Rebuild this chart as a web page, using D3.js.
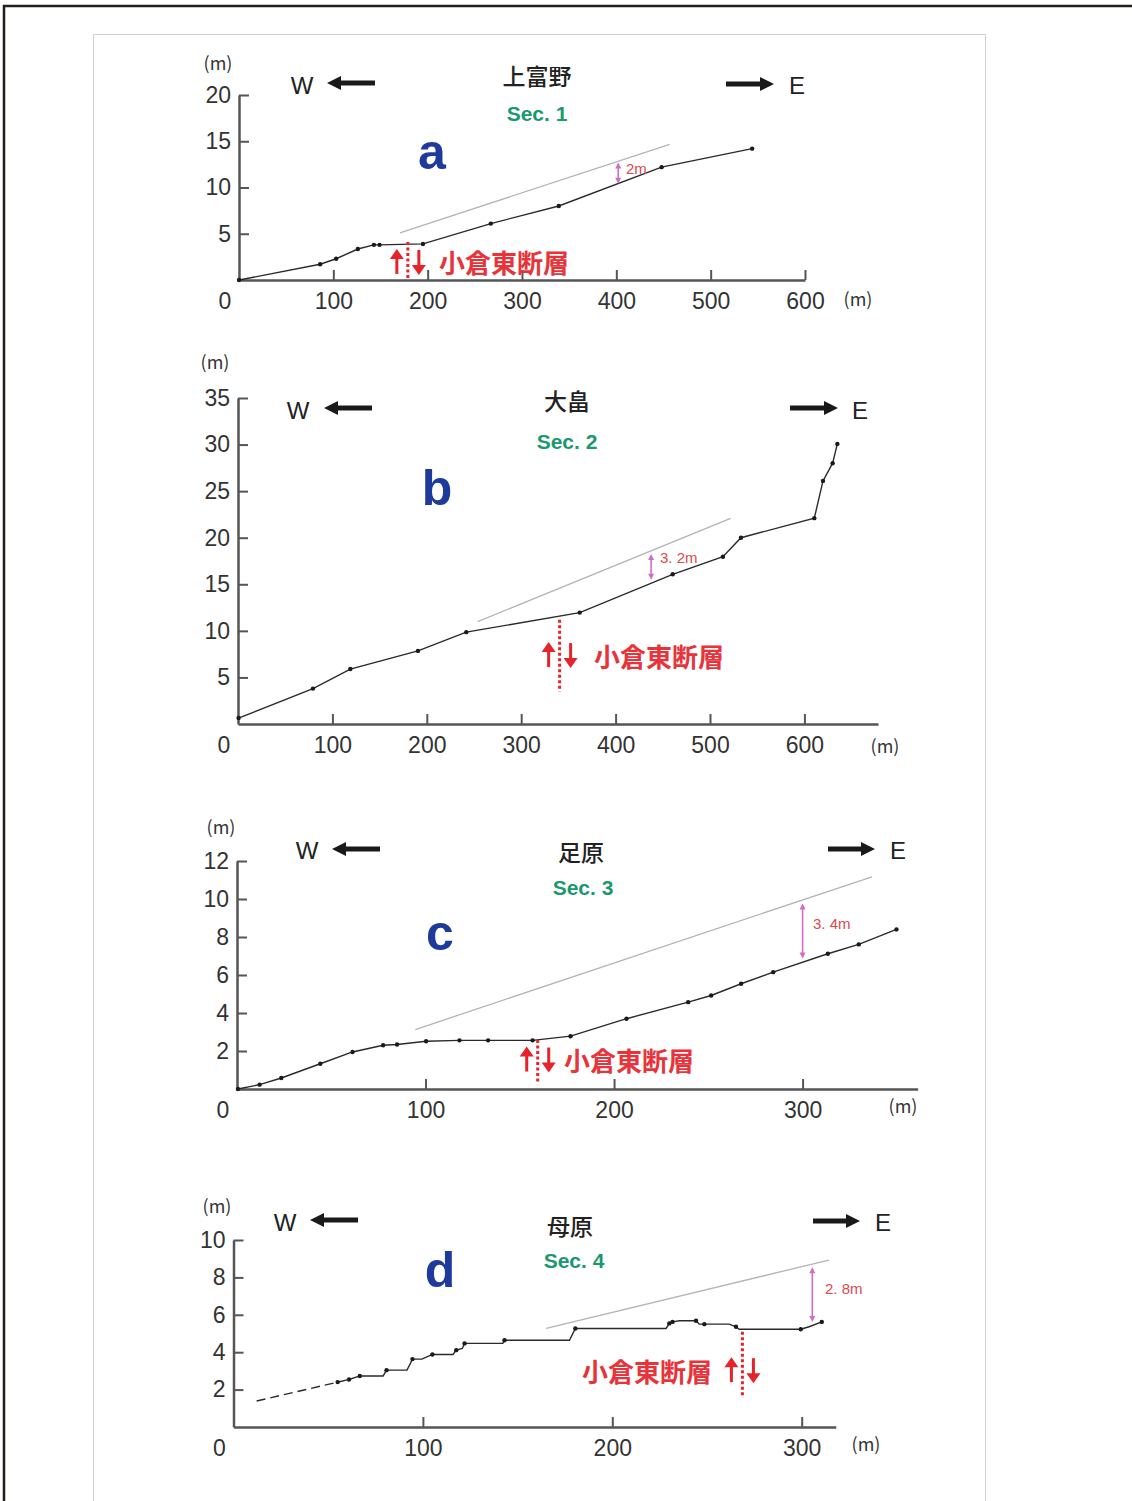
<!DOCTYPE html>
<html><head><meta charset="utf-8">
<script src="https://cdn.jsdelivr.net/npm/d3@7"></script>
<style>body{margin:0;background:#fff}</style>
</head><body>
<svg id="chart" width="1132" height="1501"></svg>
<script>
// ---------------- data ----------------
const sectionNames = ["上富野", "大畠", "足原", "母原"];
const sectionCodes = ["Sec. 1", "Sec. 2", "Sec. 3", "Sec. 4"];
const panelLetters = ["a", "b", "c", "d"];
const faultName = "小倉東断層";
const unitLabel = "(m)";
const originLabel = "0";
const offsetLabels = ["2m", "3. 2m", "3. 4m", "2. 8m"];

const secA_dist = [0, 86, 103, 126, 143, 149, 195, 267, 339, 448, 544];
const secA_elev = [0, 1.7, 2.3, 3.35, 3.8, 3.8, 3.9, 6.1, 8.0, 12.2, 14.2];
const secA_ref = [[170.6, 5.1], [456.6, 14.65]];
const secA_offset = [402, 10.4, 12.7];
const secA_fault = [179, 4.1, 0, 1.95];
const secA_xTicks = [100, 200, 300, 400, 500, 600];
const secA_yTicks = [5, 10, 15, 20];

const secB_dist = [0.6, 79.4, 119, 190.6, 241.8, 362, 460.5, 513.7, 532.8, 610.5, 619.7, 629.9, 634.9];
const secB_elev = [0.64, 3.8, 5.9, 7.85, 9.86, 11.96, 16.07, 17.96, 20.0, 22.1, 26.1, 28.0, 30.07];
const secB_ref = [[253.9, 11.0], [521.8, 22.07]];
const secB_offset = [437.6, 15.5, 18.25];
const secB_fault = [340.7, 11.2, 3.5, 7.4];
const secB_xTicks = [100, 200, 300, 400, 500, 600];
const secB_yTicks = [5, 10, 15, 20, 25, 30, 35];

const secC_dist = [0.5, 12, 23.5, 44.2, 61.3, 77.5, 84.9, 100.3, 118, 133.2, 156.8, 176.9, 206.6, 239.3, 251.5, 267.4, 284.4, 313.4, 329.8, 349.8];
const secC_elev = [0, 0.23, 0.58, 1.33, 1.95, 2.3, 2.34, 2.51, 2.56, 2.56, 2.56, 2.78, 3.7, 4.57, 4.92, 5.54, 6.15, 7.12, 7.61, 8.4];
const secC_ref = [[94.6, 3.13], [336.8, 11.17]];
const secC_offset = [300, 6.87, 9.76];
const secC_fault = [159.5, 2.58, 0.38, 1.55];
const secC_xTicks = [100, 200, 300];
const secC_yTicks = [2, 4, 6, 8, 10, 12];

const secD_dashDist = [12.2, 61];
const secD_dashElev = [1.39, 2.54];
const secD_dist = [61, 66.7, 79, 80.8, 91.6, 94.5, 99.5, 105, 115.9, 117.6, 120.8, 122, 142.2, 143.1, 177.4, 180.5, 228.4, 230.1, 231.8, 235.4, 244.2, 245.9, 261.7, 265.3, 267, 299.5, 303.9, 310.6];
const secD_elev = [2.54, 2.73, 2.73, 3.04, 3.04, 3.63, 3.63, 3.88, 3.88, 4.11, 4.2, 4.47, 4.47, 4.64, 4.64, 5.27, 5.27, 5.54, 5.62, 5.68, 5.68, 5.5, 5.5, 5.36, 5.23, 5.23, 5.36, 5.62];
const secD_markDist = [55, 61, 66.7, 80.8, 94.5, 105, 117.6, 122, 143.1, 180.5, 230.1, 231.8, 244.2, 248.6, 265.3, 299.5, 310.6];
const secD_markElev = [2.4, 2.54, 2.73, 3.04, 3.63, 3.88, 4.11, 4.47, 4.64, 5.27, 5.54, 5.62, 5.68, 5.5, 5.36, 5.23, 5.62];
const secD_ref = [[165.1, 5.27], [314.4, 8.93]];
const secD_offset = [305.6, 5.62, 8.54];
const secD_fault = [268.7, 5.09, 1.6, 3.04];
const secD_xTicks = [100, 200, 300];
const secD_yTicks = [2, 4, 6, 8, 10];

// ---------------- layout (pixels) ----------------
const layouts = [
  {x0: 239, y0: 280, xMax: 600, xPx: 0.9433, yMax: 20, yTop: 95,
   title: [537, 75], code: [537, 113], letter: [432, 152],
   w: [302, 85, 375, 327, 83], e: [726, 774, 84, 797, 85],
   unitY: [218, 62], unitX: [858, 298], faultLabelX: 439, offLab: [626, 168]},
  {x0: 238, y0: 724, xMax: 678, xPx: 0.944, yMax: 35, yTop: 398,
   title: [567, 400], code: [567, 441], letter: [437, 488],
   w: [298, 410, 372, 324, 408], e: [790, 838, 408, 860, 410],
   unitY: [215, 361], unitX: [885, 745], faultLabelX: 594, offLab: [660, 557]},
  {x0: 237, y0: 1089, xMax: 361, xPx: 1.8853, yMax: 12, yTop: 861,
   title: [581, 851], code: [583, 887], letter: [440, 933],
   w: [307, 850, 380, 332, 849], e: [828, 875, 849, 898, 850],
   unitY: [221, 826], unitX: [903, 1105], faultLabelX: 564, offLab: [813, 923]},
  {x0: 233.5, y0: 1427, xMax: 318, xPx: 1.894, yMax: 10, yTop: 1240,
   title: [570, 1225], code: [574, 1260], letter: [440, 1270],
   w: [285, 1222, 358, 310, 1220], e: [813, 860, 1221, 883, 1222],
   unitY: [217, 1205], unitX: [866, 1443], faultLabelX: 582, offLab: [825, 1288]}
];

const sections = [
  {dist: secA_dist, elev: secA_elev, ref: secA_ref, off: secA_offset, fault: secA_fault, xT: secA_xTicks, yT: secA_yTicks},
  {dist: secB_dist, elev: secB_elev, ref: secB_ref, off: secB_offset, fault: secB_fault, xT: secB_xTicks, yT: secB_yTicks},
  {dist: secC_dist, elev: secC_elev, ref: secC_ref, off: secC_offset, fault: secC_fault, xT: secC_xTicks, yT: secC_yTicks},
  {dist: secD_dist, elev: secD_elev, ref: secD_ref, off: secD_offset, fault: secD_fault, xT: secD_xTicks, yT: secD_yTicks,
   dashDist: secD_dashDist, dashElev: secD_dashElev, markDist: secD_markDist, markElev: secD_markElev}
];

const svg = d3.select("#chart");
const LATIN = "'Liberation Sans', Arial, sans-serif";
const CJK = "'Noto Sans CJK JP', 'Noto Sans', sans-serif";

// frames
svg.append("rect").attr("x", 0).attr("y", 0).attr("width", 1132).attr("height", 1501).attr("fill", "#fff");
svg.append("rect").attr("x", 93.5).attr("y", 34.5).attr("width", 892).attr("height", 1480)
  .attr("fill", "none").attr("stroke", "#d2d2d2").attr("stroke-width", 1);
svg.append("path").attr("d", "M4,1501 V6 H1132").attr("fill", "none")
  .attr("stroke", "#231c18").attr("stroke-width", 2.5);

function thickArrow(g, xTail, xHead, y) {
  const dir = xHead > xTail ? 1 : -1;
  const hb = xHead - dir * 14;
  g.append("line").attr("x1", xTail).attr("x2", hb).attr("y1", y).attr("y2", y)
    .attr("stroke", "#1a1a1a").attr("stroke-width", 5);
  g.append("path").attr("d", `M${xHead},${y} L${hb},${y - 7} L${hb},${y + 7} Z`).attr("fill", "#1a1a1a");
}

sections.forEach((s, i) => {
  const L = layouts[i];
  const g = svg.append("g");
  const xs = d3.scaleLinear().domain([0, L.xMax]).range([L.x0, L.x0 + L.xMax * L.xPx]);
  const ys = d3.scaleLinear().domain([0, L.yMax]).range([L.y0, L.yTop]);

  // axes
  const xAxis = d3.axisBottom(xs).tickValues(s.xT).tickSize(-10).tickSizeOuter(0).tickPadding(13)
    .tickFormat(d3.format("d"));
  const yAxis = d3.axisLeft(ys).tickValues(s.yT).tickSize(-10).tickSizeOuter(0).tickPadding(8)
    .tickFormat(d3.format("d"));
  const gx = g.append("g").attr("transform", `translate(0,${L.y0})`).call(xAxis);
  const gy = g.append("g").attr("transform", `translate(${L.x0},0)`).call(yAxis);
  [gx, gy].forEach(a => {
    a.attr("font-size", null).attr("font-family", null);
    a.select(".domain").attr("stroke", "#555").attr("stroke-width", 2.5);
    a.selectAll(".tick line").attr("stroke", "#555").attr("stroke-width", 2);
    a.selectAll(".tick text").attr("fill", "#333").style("font-size", "23px").style("font-family", LATIN);
  });
  g.append("text").attr("x", L.x0 - 14).attr("y", L.y0 + 21).attr("text-anchor", "middle")
    .attr("dominant-baseline", "central").style("font-size", "23px").style("font-family", LATIN)
    .attr("fill", "#333").text(originLabel);
  g.append("text").attr("x", L.unitY[0]).attr("y", L.unitY[1]).attr("text-anchor", "middle")
    .attr("dominant-baseline", "central").style("font-size", "18px").style("font-family", CJK)
    .attr("fill", "#333").text(unitLabel);
  g.append("text").attr("x", L.unitX[0]).attr("y", L.unitX[1]).attr("text-anchor", "middle")
    .attr("dominant-baseline", "central").style("font-size", "18px").style("font-family", CJK)
    .attr("fill", "#333").text(unitLabel);

  // reference (pre-fault) line
  const line = d3.line().x(d => xs(d[0])).y(d => ys(d[1]));
  g.append("path").attr("d", line(s.ref)).attr("fill", "none").attr("stroke", "#b4b4b4").attr("stroke-width", 1.3);

  // profile
  const pts = s.dist.map((d, j) => [d, s.elev[j]]);
  if (s.dashDist) {
    const dp = s.dashDist.map((d, j) => [d, s.dashElev[j]]);
    g.append("path").attr("d", line(dp)).attr("fill", "none").attr("stroke", "#2a2a2a")
      .attr("stroke-width", 1.4).attr("stroke-dasharray", "9,5");
  }
  g.append("path").attr("d", line(pts)).attr("fill", "none").attr("stroke", "#2a2a2a").attr("stroke-width", 1.4);
  const marks = s.markDist ? s.markDist.map((d, j) => [d, s.markElev[j]]) : pts;
  g.selectAll("circle.m").data(marks).join("circle").attr("class", "m")
    .attr("cx", d => xs(d[0])).attr("cy", d => ys(d[1])).attr("r", 2.2).attr("fill", "#1a1a1a");

  // offset arrow
  const ox = xs(s.off[0]), oy1 = ys(s.off[1]), oy2 = ys(s.off[2]);
  g.append("line").attr("x1", ox).attr("x2", ox).attr("y1", oy1 - 2).attr("y2", oy2 + 2)
    .attr("stroke", "#d36cc6").attr("stroke-width", 1.6);
  g.append("path").attr("d", `M${ox},${oy2} l-3,6 h6 Z M${ox},${oy1} l-3,-6 h6 Z`).attr("fill", "#d36cc6");
  g.append("text").attr("x", L.offLab[0]).attr("y", L.offLab[1]).attr("dominant-baseline", "central")
    .style("font-size", "15px").style("font-family", LATIN).attr("fill", "#e0484c").text(offsetLabels[i]);

  // fault
  const fx = xs(s.fault[0]), fy1 = ys(s.fault[1]), fy2 = ys(s.fault[2]), fc = ys(s.fault[3]);
  g.append("line").attr("x1", fx).attr("x2", fx).attr("y1", fy1).attr("y2", fy2)
    .attr("stroke", "#e5232b").attr("stroke-width", 3).attr("stroke-dasharray", "3,2.5");
  const red = "#e5232b";
  g.append("line").attr("x1", fx - 11).attr("x2", fx - 11).attr("y1", fc - 5).attr("y2", fc + 12)
    .attr("stroke", red).attr("stroke-width", 3);
  g.append("path").attr("d", `M${fx - 11},${fc - 13} L${fx - 18},${fc - 3} L${fx - 4},${fc - 3} Z`).attr("fill", red);
  g.append("line").attr("x1", fx + 11).attr("x2", fx + 11).attr("y1", fc - 12).attr("y2", fc + 5)
    .attr("stroke", red).attr("stroke-width", 3);
  g.append("path").attr("d", `M${fx + 11},${fc + 13} L${fx + 4},${fc + 3} L${fx + 18},${fc + 3} Z`).attr("fill", red);
  g.append("text").attr("x", L.faultLabelX).attr("y", fc).attr("dominant-baseline", "central")
    .style("font-size", "26px").style("font-family", CJK).style("font-weight", "bold")
    .attr("fill", "#e8333a").text(faultName);

  // headings
  g.append("text").attr("x", L.title[0]).attr("y", L.title[1]).attr("text-anchor", "middle")
    .attr("dominant-baseline", "central").style("font-size", "23px").style("font-family", CJK)
    .style("font-weight", 500).attr("fill", "#222").text(sectionNames[i]);
  g.append("text").attr("x", L.code[0]).attr("y", L.code[1]).attr("text-anchor", "middle")
    .attr("dominant-baseline", "central").style("font-size", "21px").style("font-family", LATIN)
    .style("font-weight", "bold").attr("fill", "#1b9870").text(sectionCodes[i]);
  g.append("text").attr("x", L.letter[0]).attr("y", L.letter[1]).attr("text-anchor", "middle")
    .attr("dominant-baseline", "central").style("font-size", "50px").style("font-family", LATIN)
    .style("font-weight", "bold").attr("fill", "#1d3a9c").text(panelLetters[i]);

  // W / E
  g.append("text").attr("x", L.w[0]).attr("y", L.w[1]).attr("text-anchor", "middle")
    .attr("dominant-baseline", "central").style("font-size", "24px").style("font-family", LATIN)
    .attr("fill", "#222").text("W");
  thickArrow(g, L.w[2], L.w[3], L.w[4]);
  thickArrow(g, L.e[0], L.e[1], L.e[2]);
  g.append("text").attr("x", L.e[3]).attr("y", L.e[4]).attr("text-anchor", "middle")
    .attr("dominant-baseline", "central").style("font-size", "24px").style("font-family", LATIN)
    .attr("fill", "#222").text("E");
});
</script>
</body></html>
